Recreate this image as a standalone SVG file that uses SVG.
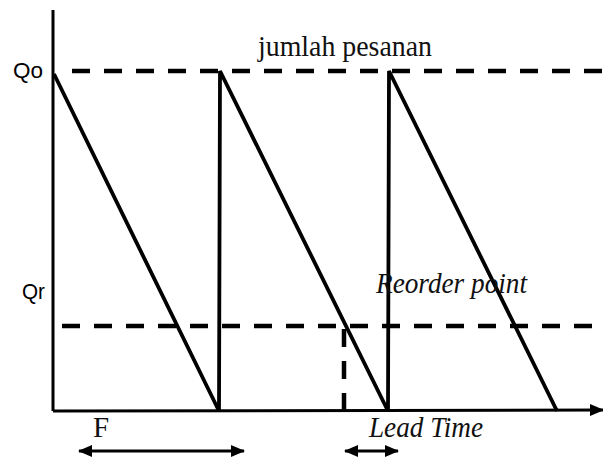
<svg xmlns="http://www.w3.org/2000/svg" width="603" height="457" viewBox="0 0 603 457">
<style>
.ax{stroke:#000;stroke-width:3;fill:none}
.saw{stroke:#000;stroke-width:3.8;fill:none;stroke-linejoin:miter}
.dash{stroke:#000;stroke-width:4.5;stroke-dasharray:18 14;fill:none}
.sans{font-family:"Liberation Sans",Arial,sans-serif;font-size:22px;fill:#000}
.serif{font-family:"Liberation Serif","Times New Roman",serif;font-size:29px;fill:#111}
.it{font-style:italic}
</style>
<defs>
<marker id="ah" viewBox="0 0 14 12" refX="13" refY="6" markerWidth="14" markerHeight="12" markerUnits="userSpaceOnUse" orient="auto-start-reverse">
<path d="M0,0 L14,6 L0,12 Z" fill="#000"/>
</marker>
</defs>
<rect width="603" height="457" fill="#fff"/>
<g id="axes">
<line class="ax" x1="53" y1="10" x2="53" y2="411"/>
<line class="ax" x1="53" y1="411" x2="603" y2="410" marker-end="url(#ah)"/>
</g>
<g id="connectors">
<line class="dash" x1="72" y1="71" x2="603" y2="71"/>
<line class="dash" x1="62" y1="326" x2="603" y2="326"/>
<line class="dash" x1="344" y1="329" x2="344" y2="411" stroke-dasharray="16 10"/>
<polyline class="saw" points="54,74 219,411 220,71 388,411 389,71 557,411"/>
<line class="ax" x1="79" y1="451" x2="244" y2="451" stroke-width="2.5" marker-start="url(#ah)" marker-end="url(#ah)"/>
<line class="ax" x1="345" y1="451" x2="398" y2="451" stroke-width="2.5" marker-start="url(#ah)" marker-end="url(#ah)"/>
</g>
<g id="labels">
<text class="sans" x="13" y="78" textLength="30" lengthAdjust="spacingAndGlyphs">Qo</text>
<text class="sans" x="22" y="299" textLength="23" lengthAdjust="spacingAndGlyphs">Qr</text>
<text class="serif" x="258" y="56" textLength="174" lengthAdjust="spacingAndGlyphs">jumlah pesanan</text>
<text class="serif it" x="376" y="293" textLength="151" lengthAdjust="spacingAndGlyphs">Reorder point</text>
<text class="serif it" x="369" y="437" textLength="114" lengthAdjust="spacingAndGlyphs">Lead Time</text>
<text class="serif" x="93" y="437">F</text>
</g>
</svg>
